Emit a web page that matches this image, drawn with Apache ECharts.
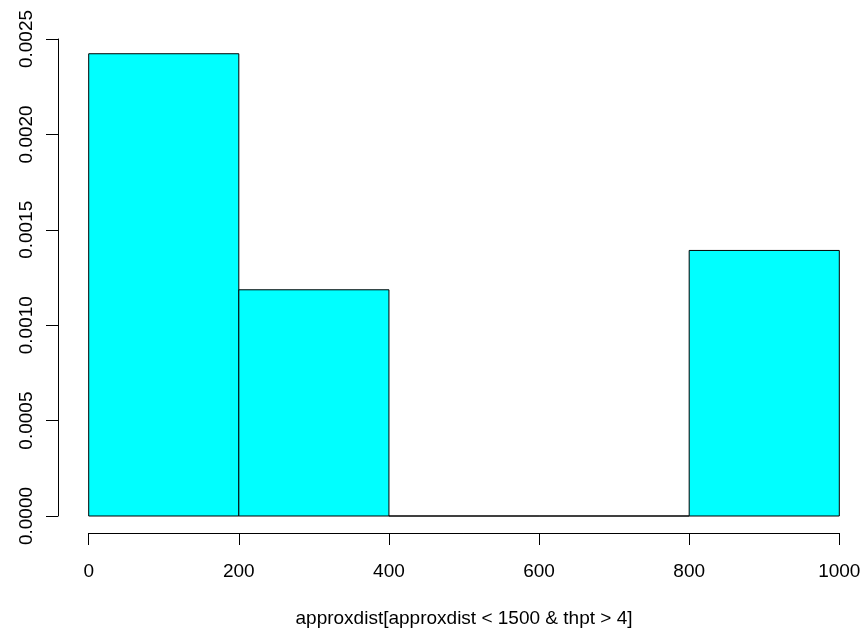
<!DOCTYPE html>
<html>
<head>
<meta charset="utf-8">
<script src="https://cdn.jsdelivr.net/npm/echarts@6/dist/echarts.min.js"></script>
<style>
  html, body { margin: 0; padding: 0; background: #ffffff; }
  #chart { width: 866px; height: 635px; }
</style>
</head>
<body>
<div id="chart"></div>
<script>
// Histogram bins (left/right edges) and density of each bin
const binStarts = [0, 200, 400, 600, 800];
const binEnds = [200, 400, 600, 800, 1000];
const densities = [0.0024227, 0.0011856, 0, 0, 0.0013918];

const xTicks = [0, 200, 400, 600, 800, 1000];
const yTicks = ['0.0000', '0.0005', '0.0010', '0.0015', '0.0020', '0.0025'];
const xTitle = 'approxdist[approxdist < 1500 & thpt > 4]';

const FONT = 'Liberation Sans, Arial, Helvetica, sans-serif';

const rows = binStarts.map((s, i) => [s, binEnds[i], densities[i]]);

const chart = echarts.init(document.getElementById('chart'), null, { renderer: 'canvas' });

chart.setOption({
  backgroundColor: '#ffffff',
  animation: false,
  grid: { left: 88.7, top: 39, width: 750.6, height: 477, containLabel: false },
  xAxis: {
    type: 'value',
    min: 0,
    max: 1000,
    interval: 200,
    offset: 17,
    axisLine: { show: true, onZero: false, lineStyle: { color: '#000', width: 1 } },
    axisTick: { show: true, length: 12, lineStyle: { color: '#000', width: 1 } },
    splitLine: { show: false },
    axisLabel: {
      margin: 29,
      color: '#000',
      fontSize: 19,
      fontFamily: FONT,
      formatter: v => (xTicks.indexOf(v) >= 0 ? String(v) : '')
    },
    name: xTitle,
    nameLocation: 'middle',
    nameGap: 76,
    nameTextStyle: { color: '#000', fontSize: 19, fontFamily: FONT }
  },
  yAxis: {
    type: 'value',
    min: 0,
    max: 0.0025,
    interval: 0.0005,
    offset: 30.7,
    axisLine: { show: true, onZero: false, lineStyle: { color: '#000', width: 1 } },
    axisTick: { show: true, length: 12, lineStyle: { color: '#000', width: 1 } },
    splitLine: { show: false },
    axisLabel: {
      rotate: 90,
      margin: 22,
      color: '#000',
      fontSize: 19,
      fontFamily: FONT,
      formatter: (v) => {
        const idx = Math.round(v / 0.0005);
        return yTicks[idx] !== undefined ? yTicks[idx] : '';
      }
    }
  },
  series: [{
    type: 'custom',
    data: rows,
    encode: { x: [0, 1], y: 2 },
    renderItem: (params, api) => {
      const p0 = api.coord([api.value(0), 0]);
      const p1 = api.coord([api.value(1), api.value(2)]);
      return {
        type: 'rect',
        shape: {
          x: p0[0],
          y: p1[1],
          width: p1[0] - p0[0],
          height: p0[1] - p1[1]
        },
        style: { fill: '#00ffff', stroke: '#000', lineWidth: 1 }
      };
    }
  }]
});
</script>
</body>
</html>
